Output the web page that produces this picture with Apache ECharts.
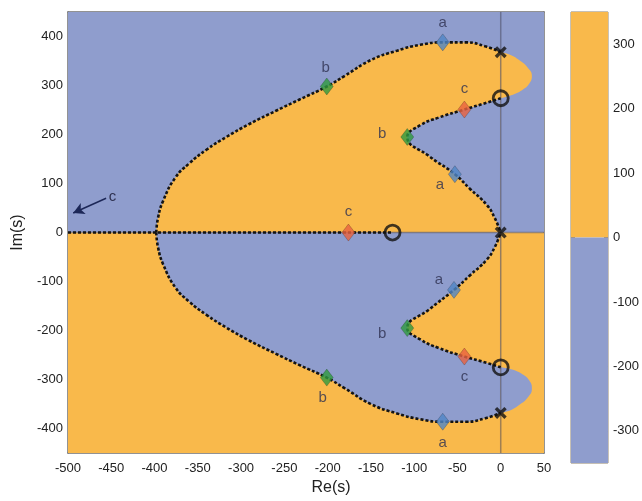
<!DOCTYPE html>
<html><head><meta charset="utf-8">
<script src="https://cdn.jsdelivr.net/npm/echarts@6/dist/echarts.min.js"></script>
<style>html,body{margin:0;padding:0;background:#fff}#c{width:642px;height:501px}</style>
</head><body><div id="c"></div>
<script>
// ---- data (Re, Im) ----
const realAxisLocus = [[-500,0],[-125,0]];
const upperOuter = [[-398,0],[-396,30],[-390,65],[-376,112],[-360,141],[-340,169],[-317,195],[-291,221],[-259,249],[-233,271],[-201,298],[-180,320],[-150,352],[-120,371],[-93,383],[-67,388],[-40,388],[-18,380],[0,368]];
const upperTip = [[0,368],[12,362],[22,351],[31,337],[36,320],[33,304],[25,291],[12,280],[0,274]];
const upperInner = [[0,274],[-16,265],[-42,251],[-71,235],[-93,219],[-108,195],[-82,155],[-53,119],[-36,90],[-16,56],[-7,30],[0,0]];
const lowerOuter = [[-398,0],[-396,-30],[-390,-65],[-376,-112],[-360,-141],[-340,-168],[-317,-194],[-291,-220],[-259,-248],[-233,-270],[-201,-296],[-180,-318],[-150,-350],[-120,-369],[-93,-381],[-67,-386],[-40,-386],[-18,-379],[0,-368]];
const lowerTip = [[0,-368],[12,-362],[22,-351],[31,-337],[36,-318],[33,-302],[25,-289],[12,-279],[0,-275]];
const lowerInner = [[0,-275],[-16,-266],[-42,-253],[-71,-236],[-93,-218],[-108,-195],[-82,-156],[-54,-117],[-36,-88],[-16,-55],[-7,-30],[0,0]];
const poles = [[0,368],[0,0],[0,-368]];
const zeros = [[0,274],[-125,0],[0,-275]];
const aPoints = [[-67,388],[-53,119],[-54,-117],[-67,-386]];
const bPoints = [[-201,298],[-108,195],[-108,-195],[-201,-296]];
const cPoints = [[-176,0],[-42,251],[-42,-253]];
const arrowC = [[-456,70],[-494,40]];
const xRange = [-500, 50];
const yRange = [-450, 450];
const colorbarRange = [-350, 350];
const colorbarTicks = [-300,-200,-100,0,100,200,300];

// ---- styles ----
const ORANGE = '#f9b94b', BLUE = '#8f9dcd';
const FONT = 'Liberation Sans, Arial, sans-serif';
const TXT = '#222';
const LBL = '#2e3150';
const aLabelPlace = [['top',[0,1]],['left',[0,11]],['left',[0,-10]],['bottom',[0,1]]];
const bLabelPlace = [['top',[-1,2]],['left',[-10,-3]],['left',[-10,6]],['bottom',[-4,0]]];
const cLabelPlace = [['top',[0,0]],['top',[0,0]],['bottom',[0,0]]];
const SMOOTH = 0.5;

const upperHalf = [[xRange[0],0],[xRange[1],0],[xRange[1],yRange[1]],[xRange[0],yRange[1]]];
const lowerHalf = [[xRange[0],0],[xRange[1],0],[xRange[1],yRange[0]],[xRange[0],yRange[0]]];

function polySeries(pts, color, z) {
  return {
    type:'custom', xAxisIndex:0, yAxisIndex:0, z:z, silent:true, data:[[0,0]],
    renderItem:function(params, api){
      return {type:'polygon', shape:{points: pts.map(p=>api.coord(p))}, style:{fill:color}};
    }
  };
}
function areaSeries(pts, color, z) {
  return {type:'line', xAxisIndex:0, yAxisIndex:0, data:pts, showSymbol:false, symbol:'none', silent:true, z:z,
    smooth:SMOOTH, lineStyle:{width:0, opacity:0}, areaStyle:{color:color, opacity:1, origin:0}};
}
function lineSeries(pts, z, style, smooth) {
  return {type:'line', xAxisIndex:0, yAxisIndex:0, data:pts, showSymbol:false, symbol:'none', silent:true, z:z,
    smooth: smooth ? SMOOTH : false, lineStyle:style};
}
const locusStyle = {color:'#141414', width:2.6, type:[3,2]};
const zeroStyle = {color:'rgba(70,70,90,0.5)', width:1.5};

function markerSeries(pts, places, color, text) {
  return {
    type:'scatter', xAxisIndex:0, yAxisIndex:0, z:6, symbol:'diamond', symbolSize:[13,17],
    itemStyle:{color:color, borderColor:'rgba(0,0,0,0.3)', borderWidth:0.8},
    data: pts.map((p,i)=>({value:p, label:{position:places[i][0], offset:places[i][1]}})),
    label:{show:true, formatter:text, fontSize:15, color:LBL, fontFamily:FONT, distance:4}
  };
}
const xPath = 'path://M2,0 L5,3 L8,0 L10,2 L7,5 L10,8 L8,10 L5,7 L2,10 L0,8 L3,5 L0,2 Z';
const axisLineStyle = {show:true, onZero:false, lineStyle:{color:'#6f6f6f', width:1.5}};

const option = {
  animation:false,
  backgroundColor:'#fff',
  grid:[
    {left:68, top:12, width:476, height:451},
    {left:571, top:12, width:37, height:451, show:true, borderColor:'#8c806a', borderWidth:1, backgroundColor:'transparent'}
  ],
  xAxis:[
    {gridIndex:0, type:'value', min:xRange[0], max:xRange[1], interval:50,
      axisLine:axisLineStyle, axisTick:{show:false}, splitLine:{show:false},
      axisLabel:{fontSize:13, color:TXT, margin:9, fontFamily:FONT},
      name:'Re(s)', nameLocation:'middle', nameGap:22,
      nameTextStyle:{fontSize:16, color:TXT, fontFamily:FONT, padding:[0,0,0,50]}},
    {gridIndex:0, type:'value', position:'top', min:xRange[0], max:xRange[1],
      axisLine:axisLineStyle, axisTick:{show:false}, axisLabel:{show:false}, splitLine:{show:false}},
    {gridIndex:1, type:'value', min:0, max:1, show:false}
  ],
  yAxis:[
    {gridIndex:0, type:'value', min:yRange[0], max:yRange[1], interval:50,
      axisLine:axisLineStyle, axisTick:{show:false}, splitLine:{show:false},
      axisLabel:{fontSize:13, color:TXT, margin:5, fontFamily:FONT, formatter:v=> (v%100===0 ? String(v) : '')},
      name:'Im(s)', nameLocation:'middle', nameGap:41, nameRotate:90,
      nameTextStyle:{fontSize:16, color:TXT, fontFamily:FONT}},
    {gridIndex:0, type:'value', position:'right', min:yRange[0], max:yRange[1],
      axisLine:axisLineStyle, axisTick:{show:false}, axisLabel:{show:false}, splitLine:{show:false}},
    {gridIndex:1, type:'value', position:'right', min:colorbarRange[0], max:colorbarRange[1],
      axisLine:{show:false, onZero:false}, splitLine:{show:false},
      axisTick:{show:true, inside:true, length:4, customValues:colorbarTicks, lineStyle:{color:'#6a5a40'}},
      axisLabel:{show:true, customValues:colorbarTicks, fontSize:13, color:TXT, margin:5, fontFamily:FONT}},
    {gridIndex:1, type:'value', position:'left', min:colorbarRange[0], max:colorbarRange[1],
      axisLine:{show:false, onZero:false}, splitLine:{show:false},
      axisTick:{show:true, inside:true, length:4, customValues:colorbarTicks, lineStyle:{color:'#6a5a40'}},
      axisLabel:{show:false}}
  ],
  series:[
    polySeries(upperHalf, BLUE, 1),
    polySeries(lowerHalf, ORANGE, 1),
    areaSeries(upperOuter, ORANGE, 2),
    areaSeries(lowerOuter, BLUE, 2),
    areaSeries(upperInner, BLUE, 3),
    areaSeries(lowerInner, ORANGE, 3),
    areaSeries(upperTip, ORANGE, 3),
    areaSeries(lowerTip, BLUE, 3),
    lineSeries([[0,yRange[0]],[0,yRange[1]]], 4, zeroStyle, false),
    lineSeries([[xRange[0],0],[xRange[1],0]], 4, zeroStyle, false),
    lineSeries(realAxisLocus, 5, locusStyle, false),
    lineSeries(upperOuter, 5, locusStyle, true),
    lineSeries(upperInner, 5, locusStyle, true),
    lineSeries(lowerOuter, 5, locusStyle, true),
    lineSeries(lowerInner, 5, locusStyle, true),
    {type:'line', xAxisIndex:0, yAxisIndex:0, data:[], z:5, silent:true,
      markLine:{silent:true, symbol:['none','arrow'], symbolSize:[9,11], animation:false,
        lineStyle:{color:'#1c2757', width:1.5, type:'solid'},
        label:{show:true, position:'start', formatter:'c', fontSize:15, color:LBL, fontFamily:FONT, distance:3},
        data:[[{coord:arrowC[0]},{coord:arrowC[1]}]]}},
    markerSeries(aPoints, aLabelPlace, '#4f86c6', 'a'),
    markerSeries(bPoints, bLabelPlace, '#2e9a3e', 'b'),
    markerSeries(cPoints, cLabelPlace, '#e8613f', 'c'),
    {type:'scatter', xAxisIndex:0, yAxisIndex:0, z:7, data:poles, symbol:xPath, symbolSize:12,
      itemStyle:{color:'#111'}, silent:true},
    {type:'scatter', xAxisIndex:0, yAxisIndex:0, z:7, data:zeros, symbol:'circle', symbolSize:15,
      itemStyle:{color:'rgba(0,0,0,0)', borderColor:'#111', borderWidth:2.8}, silent:true},
    {type:'custom', xAxisIndex:2, yAxisIndex:2, z:1, silent:true,
      data:[[0, colorbarRange[1], 0], [colorbarRange[0], 0, 1]],
      renderItem:function(params, api){
        const lo = api.value(0), hi = api.value(1);
        const p1 = api.coord([0, hi]), p2 = api.coord([1, lo]);
        return {type:'rect', shape:{x:p1[0], y:p1[1], width:p2[0]-p1[0], height:p2[1]-p1[1]},
          style:{fill: api.value(2)===0 ? ORANGE : BLUE}};
      }}
  ]
};
const chart = echarts.init(document.getElementById('c'), null, {renderer:'canvas'});
chart.setOption(option);
</script></body></html>
